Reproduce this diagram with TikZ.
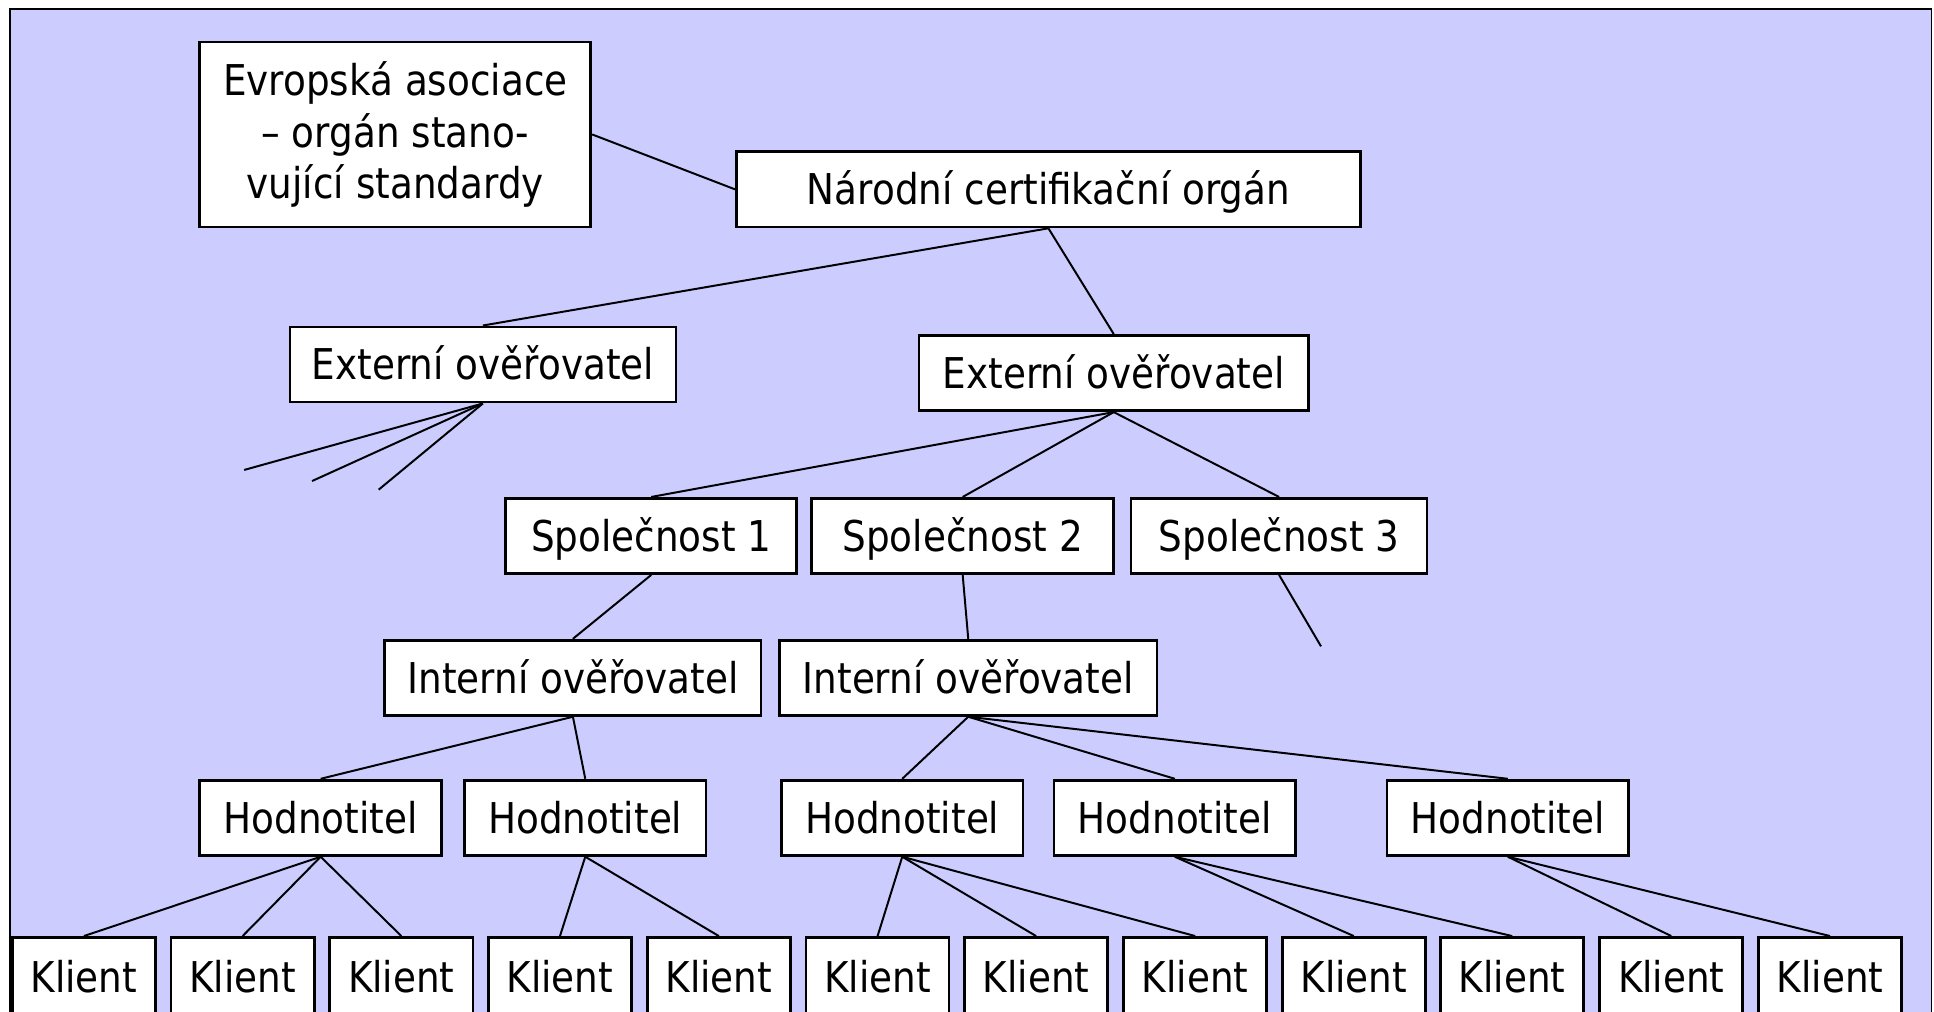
\documentclass[tikz,border=0pt]{standalone}
\usepackage{fontspec}
\setmainfont[FakeStretch=0.88]{DejaVu Sans}
\usepackage{tikz}
\usepackage{xcolor}
\definecolor{lavender}{HTML}{CCCCFF}

\begin{document}
\begin{tikzpicture}[x=0.5pt,y=0.5pt]
        \tikzstyle{every node}+=[inner sep=0pt, font=\fontsize{17.2}{20.75}\selectfont]
        \tikzstyle{box}=[draw=black, line width=1.1pt, fill=white, minimum height=30.5pt, text height=12.5pt, text depth=0pt]
        \tikzstyle{bigbox}=[draw=black, line width=1.1pt, fill=white, align=center]
        \tikzstyle{link}=[black, line width=0.8pt]
        \useasboundingbox (0,0) rectangle (1568,-820);
        \draw [black, line width=0.7pt, fill=lavender] (8,-840) rectangle (1566,-7);
        \node [bigbox, minimum width=158.5pt, minimum height=75pt] (evr) at (320.5,-109) {Evropská asociace\\– orgán stano-\\vující standardy};
        \node [box, minimum width=253pt] (nco) at (850,-153.5) {Národní certifikační orgán};
        \node [box, minimum width=156.5pt] (ext1) at (391.5,-295.5) {Externí ověřovatel};
        \node [box, minimum width=158pt] (ext2) at (903,-302.5) {Externí ověřovatel};
        \node [box, minimum width=118pt] (sp1) at (528,-434.5) {Společnost 1};
        \node [box, minimum width=122.5pt] (sp2) at (780.5,-434.5) {Společnost 2};
        \node [box, minimum width=120pt] (sp3) at (1037,-434.5) {Společnost 3};
        \node [box, minimum width=152.5pt] (int1) at (464.5,-549.5) {Interní ověřovatel};
        \node [box, minimum width=153pt] (int2) at (785,-549.5) {Interní ověřovatel};
        \node [box, minimum width=98pt] (h1) at (260,-663) {Hodnotitel};
        \node [box, minimum width=98pt] (h2) at (474.5,-663) {Hodnotitel};
        \node [box, minimum width=98pt] (h3) at (731.5,-663) {Hodnotitel};
        \node [box, minimum width=98pt] (h4) at (952.5,-663) {Hodnotitel};
        \node [box, minimum width=98pt] (h5) at (1222.5,-663) {Hodnotitel};
        \node [box, minimum width=58pt, minimum height=32pt] (k1) at (68,-792) {Klient};
        \node [box, minimum width=58pt, minimum height=32pt] (k2) at (196.7,-792) {Klient};
        \node [box, minimum width=58pt, minimum height=32pt] (k3) at (325.4,-792) {Klient};
        \node [box, minimum width=58pt, minimum height=32pt] (k4) at (454,-792) {Klient};
        \node [box, minimum width=58pt, minimum height=32pt] (k5) at (582.8,-792) {Klient};
        \node [box, minimum width=58pt, minimum height=32pt] (k6) at (711.5,-792) {Klient};
        \node [box, minimum width=58pt, minimum height=32pt] (k7) at (840,-792) {Klient};
        \node [box, minimum width=58pt, minimum height=32pt] (k8) at (969,-792) {Klient};
        \node [box, minimum width=58pt, minimum height=32pt] (k9) at (1097.6,-792) {Klient};
        \node [box, minimum width=58pt, minimum height=32pt] (k10) at (1226,-792) {Klient};
        \node [box, minimum width=58pt, minimum height=32pt] (k11) at (1355,-792) {Klient};
        \node [box, minimum width=58pt, minimum height=32pt] (k12) at (1483.7,-792) {Klient};
        \coordinate (ea) at (198,-381);
        \coordinate (eb) at (253,-390);
        \coordinate (ec) at (307,-397);
        \coordinate (sa) at (1071,-524);
        \draw [link] (evr.east) -- (nco.west);
        \draw [link] (nco.south) -- (ext1.north);
        \draw [link] (nco.south) -- (ext2.north);
        \draw [link] (ext1.south) -- (ea);
        \draw [link] (ext1.south) -- (eb);
        \draw [link] (ext1.south) -- (ec);
        \draw [link] (ext2.south) -- (sp1.north);
        \draw [link] (ext2.south) -- (sp2.north);
        \draw [link] (ext2.south) -- (sp3.north);
        \draw [link] (sp1.south) -- (int1.north);
        \draw [link] (sp2.south) -- (int2.north);
        \draw [link] (sp3.south) -- (sa);
        \draw [link] (int1.south) -- (h1.north);
        \draw [link] (int1.south) -- (h2.north);
        \draw [link] (int2.south) -- (h3.north);
        \draw [link] (int2.south) -- (h4.north);
        \draw [link] (int2.south) -- (h5.north);
        \draw [link] (h1.south) -- (k1.north);
        \draw [link] (h1.south) -- (k2.north);
        \draw [link] (h1.south) -- (k3.north);
        \draw [link] (h2.south) -- (k4.north);
        \draw [link] (h2.south) -- (k5.north);
        \draw [link] (h3.south) -- (k6.north);
        \draw [link] (h3.south) -- (k7.north);
        \draw [link] (h3.south) -- (k8.north);
        \draw [link] (h4.south) -- (k9.north);
        \draw [link] (h4.south) -- (k10.north);
        \draw [link] (h5.south) -- (k11.north);
        \draw [link] (h5.south) -- (k12.north);
\end{tikzpicture}
\end{document}
